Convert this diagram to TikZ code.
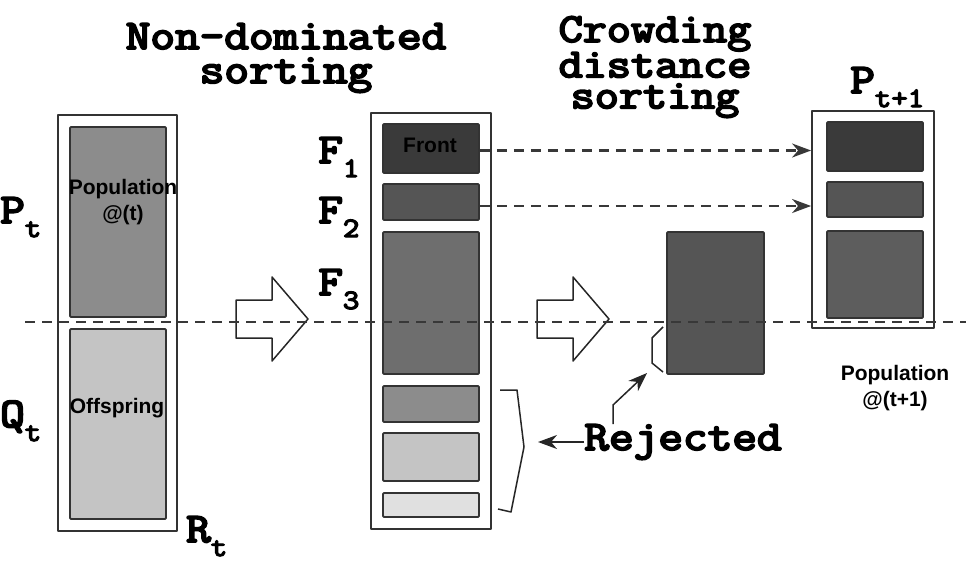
\documentclass[tikz,border=0pt]{standalone}
\usepackage{fontspec}
\setmainfont{Liberation Sans}
\newfontfamily\headfont[FakeBold=4.5]{Latin Modern Mono}
\usepackage{graphicx}
\usepackage{tikz}
\usetikzlibrary{arrows.meta}

\definecolor{grayA}{HTML}{3A3A3A}
\definecolor{grayB}{HTML}{555555}
\definecolor{grayC}{HTML}{6E6E6E}
\definecolor{grayD}{HTML}{8C8C8C}
\definecolor{grayE}{HTML}{C4C4C4}
\definecolor{grayF}{HTML}{E0E0E0}
\newcommand\wide[1]{\scalebox{1.14}[1]{#1}}
\newcommand\sublbl[2]{\wide{#1\raisebox{-14pt}{\fontsize{28}{28}\selectfont #2}}}

\begin{document}
\begin{tikzpicture}[x=1pt,y=-1pt,line join=round]
	\tikzstyle{outer}=[draw=black!80,line width=1.8pt,inner sep=0pt]
	\tikzstyle{band}=[draw=black!80,line width=1.8pt,inner sep=0pt,rounded corners=1pt,minimum width=96pt]
	\tikzstyle{head}=[font=\headfont\fontsize{42}{34}\selectfont,align=center,inner sep=0pt]
	\tikzstyle{lbl}=[font=\headfont\fontsize{42}{42}\selectfont,inner sep=0pt,anchor=base west]
	\tikzstyle{tag}=[font=\bfseries\fontsize{21}{26}\selectfont,align=center,inner sep=0pt]
	\tikzstyle{cutline}=[draw=black!78,line width=2.2pt,dash pattern=on 10pt off 7pt]
	\tikzstyle{hollow}=[draw=black!85,line width=1.5pt,fill=white]
	\tikzstyle{thin}=[draw=black!85,line width=1.5pt]
	\tikzstyle{pointer}=[-{Stealth[length=19pt,width=14pt,inset=6pt]}]

	\useasboundingbox (0,0) rectangle (974,563);

	% headings
	\node[head] (nds) at (286,58) {\wide{Non-dominated}\\\wide{sorting}};
	\node[head,font=\headfont\fontsize{41}{31}\selectfont] (cds) at (655,67)
		{\wide{Crowding}\\\wide{distance}\\\wide{sorting}};

	% R_t = P_t + Q_t
	\node[outer,minimum width=119pt,minimum height=416pt] (rt) at (117.5,323) {};
	\node[band,fill=grayD,minimum height=190pt] (pop) at (118,222) {};
	\node[band,fill=grayE,minimum height=190pt] (off) at (118,424) {};
	\node[tag] (poptxt) at (123,202) {Population\\@(t)};
	\node[tag] (offtxt) at (117,408) {Offspring};
	\node[lbl] (ptl) at (0,223) {\sublbl{P}{t}};
	\node[lbl] (qtl) at (0,427) {\sublbl{Q}{t}};
	\node[lbl] (rtl) at (186,542) {\sublbl{R}{t}};

	% sorted fronts
	\node[outer,minimum width=120pt,minimum height=416pt] (fronts) at (431,321) {};
	\node[band,fill=grayA,minimum height=49pt] (f1) at (431,148.5) {};
	\node[band,fill=grayB,minimum height=36pt] (f2) at (431,202) {};
	\node[band,fill=grayC,minimum height=142pt] (f3) at (431,303) {};
	\node[band,fill=grayD,minimum height=36pt] (f4) at (431,404) {};
	\node[band,fill=grayE,minimum height=48pt] (f5) at (431,457) {};
	\node[band,fill=grayF,minimum height=24pt] (f6) at (431,505) {};
	\node[tag] (fronttxt) at (430,145) {Front};
	\node[lbl] (f1l) at (318,163) {\sublbl{F}{1}};
	\node[lbl] (f2l) at (318,223) {\sublbl{F}{2}};
	\node[lbl] (f3l) at (318,295) {\sublbl{F}{3}};

	% crowding distance cut
	\node[band,fill=grayB,minimum width=97pt,minimum height=142pt] (cut) at (715.5,303) {};

	% P_{t+1}
	\node[outer,minimum width=122pt,minimum height=217pt] (pnext) at (873,219.5) {};
	\node[band,fill=grayA,minimum height=49pt] (n1) at (875,146.5) {};
	\node[band,fill=grayB,minimum height=35pt] (n2) at (875,199.5) {};
	\node[band,fill=grayB!95!white,minimum height=87pt] (n3) at (875,274.5) {};
	\node[lbl] (pnl) at (850,93) {\sublbl{P}{t+1}};
	\node[tag] (pnexttxt) at (895,388) {Population\\@(t+1)};

	% block arrows
	\foreach \x in {236,537}
		\draw[hollow] (\x,300) -- ++(36,0) -- ++(0,-23) -- ++(36,42) -- ++(-36,42)
			-- ++(0,-23) -- ++(-36,0) -- cycle;

	% population boundary
	\coordinate (cutl) at (25,322);
	\coordinate (cutr) at (966,322);
	\draw[cutline] (cutl) -- (cutr);

	% F1 and F2 go on to P_{t+1}
	\draw[cutline,pointer] ([yshift=-2pt]f1.east) -- ([yshift=-2pt]f1.east -| pnext.west);
	\draw[cutline,pointer] ([yshift=-4pt]f2.east) -- ([yshift=-4pt]f2.east -| pnext.west);

	% rejected
	\node[lbl,anchor=base] (rej) at (683,450) {\wide{Rejected}};
	\draw[thin] (500,390) -- (517,390) -- (524,447) -- (511,512) -- (498,509);
	\draw[thin] (663,327) -- (652,338) -- (652,363) -- (663,372);
	\coordinate (brk) at (538,442);
	\coordinate (rk) at (613,405);
	\coordinate (rtip) at (647,373);
	\draw[thin,pointer] (rej.west |- brk) -- (brk);
	\draw[thin,pointer] (rej.north -| rk) -- (rk) -- (rtip);
\end{tikzpicture}
\end{document}
